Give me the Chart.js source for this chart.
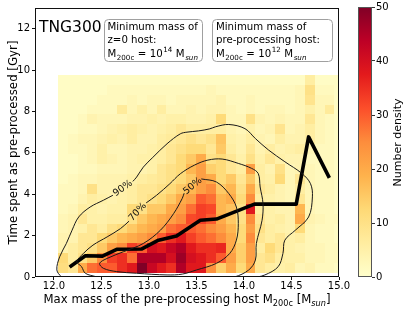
<!DOCTYPE html>
<html><head><meta charset="utf-8">
<script src="https://cdn.jsdelivr.net/npm/chart.js@4.4.1/dist/chart.umd.min.js"></script>
<style>
html,body{margin:0;padding:0;background:#fff;}
#wrap{position:relative;width:407px;height:310px;overflow:hidden;}
#main{position:absolute;left:0;top:0;}
#cbar{position:absolute;left:340px;top:0;}
</style></head><body>
<div id="wrap"><canvas id="main" width="407" height="310"></canvas><canvas id="cbar" width="67" height="310"></canvas></div>
<script>
// ---------- data ----------
const massTicks = [12.0, 12.5, 13.0, 13.5, 14.0, 14.5, 15.0];
const timeTicks = [0, 2, 4, 6, 8, 10, 12];
const densityTicks = [0, 10, 20, 30, 40, 50];

const massEdges = [12.040, 12.144, 12.248, 12.352, 12.456, 12.560, 12.664, 12.768, 12.872, 12.976,
  13.080, 13.184, 13.288, 13.392, 13.496, 13.600, 13.704, 13.808, 13.912, 14.016,
  14.120, 14.224, 14.328, 14.432, 14.536, 14.640, 14.744, 14.848, 14.952, 15.056];
const timeEdges = [0.19, 0.669, 1.148, 1.627, 2.106, 2.585, 3.064, 3.543, 4.022, 4.501, 4.98,
  5.459, 5.938, 6.417, 6.896, 7.375, 7.854, 8.333, 8.812, 9.291, 9.77];

// number density per cell, one array per time bin (bottom to top), columns along mass
const d00 = [11,8,20,28,30,30,35,38,50,42,38,35,45,38,38,24,14,20,12,20,8,6,5,6,3,4,2,2,1];
const d01 = [12,6,10,15,25,33,35,28,45,45,45,40,47,40,38,35,30,22,14,22,8,10,6,5,5,3,3,2,2];
const d02 = [4,6,8,10,15,22,25,33,30,40,38,42,45,38,35,35,36,20,14,22,6,12,8,5,4,3,3,2,2];
const d03 = [4,4,8,8,12,15,18,20,22,25,30,35,38,33,30,28,25,20,12,25,8,6,8,5,6,3,2,2,1];
const d04 = [3,4,5,8,6,10,12,15,18,20,22,28,30,30,28,25,22,18,12,22,10,6,5,4,12,3,2,2,1];
const d05 = [3,4,8,5,5,6,6,10,15,18,20,22,25,32,33,30,20,15,10,25,8,5,6,4,20,4,3,2,2];
const d06 = [2,3,6,5,4,5,5,12,10,15,15,20,22,28,33,32,18,16,10,38,6,5,4,4,18,3,2,2,1];
const d07 = [2,2,4,6,5,4,5,6,8,10,12,15,20,22,30,28,18,20,12,25,6,5,4,3,8,3,2,2,1];
const d08 = [2,2,3,10,4,4,5,6,8,8,10,12,15,18,22,25,15,18,10,20,8,6,4,3,6,3,2,2,1];
const d09 = [1,2,3,3,4,4,4,5,6,7,8,10,12,15,22,20,12,15,8,15,6,5,12,3,8,3,2,2,1];
const d10 = [1,1,2,2,3,3,3,4,4,5,8,10,12,18,22,14,12,8,6,22,6,4,10,3,4,3,2,2,1];
const d11 = [1,1,2,3,5,4,3,4,5,5,6,8,12,15,20,10,12,8,5,10,5,8,5,4,4,2,2,2,1];
const d12 = [1,2,2,3,5,3,3,4,4,5,6,8,10,12,12,8,15,6,4,8,4,6,4,5,6,3,2,2,1];
const d13 = [1,2,3,3,4,5,4,6,4,4,6,7,8,10,8,10,16,5,4,6,4,3,6,4,4,6,3,2,1];
const d14 = [1,1,2,2,3,4,5,6,5,4,5,6,8,6,6,6,6,4,3,5,3,4,9,3,4,6,3,2,1];
const d15 = [1,1,2,4,3,3,3,4,4,5,4,5,5,4,4,5,12,3,3,10,4,3,4,3,3,8,3,2,1];
const d16 = [1,1,1,2,2,2,7,3,5,3,6,3,3,4,3,4,4,3,2,3,2,3,3,2,3,5,3,7,1];
const d17 = [1,1,1,1,2,2,2,3,2,3,3,2,3,3,3,3,4,2,2,3,2,2,2,2,3,9,3,3,1];
const d18 = [1,1,1,1,1,2,2,2,2,2,2,2,2,2,2,3,2,2,2,2,2,2,2,2,3,10,2,2,1];
const d19 = [1,1,1,1,1,1,1,1,1,1,1,1,1,1,1,1,1,1,1,1,1,1,1,1,1,6,1,1,1];
const densityRows = [d00,d01,d02,d03,d04,d05,d06,d07,d08,d09,d10,d11,d12,d13,d14,d15,d16,d17,d18,d19];

// median line
const medMass = [12.18, 12.33, 12.51, 12.66, 12.92, 13.10, 13.29, 13.54, 13.71, 14.11, 14.55, 14.68, 14.89];
const medTime = [0.53, 1.03, 1.01, 1.34, 1.35, 1.78, 1.98, 2.74, 2.80, 3.52, 3.52, 6.77, 4.87];

// contours (open at the label gap)
const c90Mass = [12.83,12.87,12.94,13.04,13.19,13.33,13.40,13.52,13.64,13.70,13.84,14.01,14.12,14.26,14.43,14.61,14.70,14.72,14.68,14.54,14.43,14.41,14.36,14.22,14.08,13.90,13.00,12.20,12.08,12.03,12.06,12.13,12.19,12.26,12.38,12.52,12.62];
const c90Time = [4.62,4.83,5.31,5.78,6.44,6.92,7.00,7.06,7.16,7.26,7.37,7.17,6.69,6.13,5.57,5.00,4.51,3.87,2.90,2.26,1.78,1.14,0.50,0.10,-0.06,-0.30,-0.50,-0.50,0.00,0.34,0.98,1.62,2.26,2.90,3.38,3.71,3.95];
const c70Mass = [12.97,13.08,13.22,13.33,13.48,13.62,13.77,13.94,14.08,14.15,14.17,14.20,14.19,14.13,14.12,14.05,13.90,13.60,12.60,12.45,12.33,12.29,12.24,12.31,12.41,12.56,12.70,12.79];
const c70Time = [3.58,3.95,4.51,4.99,5.41,5.65,5.70,5.49,5.25,5.00,4.35,3.55,2.74,1.62,0.82,0.34,0.00,-0.30,-0.30,0.00,0.18,0.50,0.74,1.14,1.54,1.94,2.34,2.70];
const c50Mass = [13.55,13.71,13.84,13.92,13.94,13.92,13.85,13.71,13.50,13.35,13.19,12.87,12.66,12.52,12.48,12.56,12.73,12.94,13.12,13.26,13.35,13.37];
const c50Time = [4.74,4.59,4.03,3.38,2.59,1.78,1.14,0.66,0.34,0.14,0.10,0.18,0.26,0.42,0.66,0.90,1.22,1.62,2.26,3.07,3.80,4.05];
const contourLabels = ['90%', '70%', '50%'];

const cmapStops = ['#ffffcc','#ffeda0','#fed976','#feb24c','#fd8d3c','#fc4e2a','#e31a1c','#bd0026','#800026'];
const densityMax = 50;

// ---------- helpers ----------
const FONT = '"DejaVu Sans", "Liberation Sans", sans-serif';
Chart.defaults.font.family = FONT;
function hexRgb(h){return [parseInt(h.slice(1,3),16),parseInt(h.slice(3,5),16),parseInt(h.slice(5,7),16)];}
function ylOrRd(t){
  t = Math.max(0, Math.min(1, t));
  const n = cmapStops.length - 1, f = t * n, i = Math.min(Math.floor(f), n - 1), u = f - i;
  const a = hexRgb(cmapStops[i]), b = hexRgb(cmapStops[i+1]);
  return 'rgb(' + a.map((v,k)=>Math.round(v + (b[k]-v)*u)).join(',') + ')';
}
function rich(ctx, x, y, parts, size, draw){
  let cx = x;
  parts.forEach(p => {
    const small = p.sub || p.sup;
    const s = small ? size * 0.7 : size;
    ctx.font = (p.italic ? 'italic ' : '') + s + 'px ' + FONT;
    cx += (p.gap || 0);
    const dy = p.sub ? size * 0.3 : (p.sup ? -size * 0.42 : 0);
    if (draw) ctx.fillText(p.t, cx, y + dy);
    cx += ctx.measureText(p.t).width;
  });
  return cx - x;
}
function pts(xs, ys){ return xs.map((x,i)=>({x:x, y:ys[i]})); }
function contourDs(xs, ys){
  return {data: pts(xs, ys), showLine:true, borderColor:'#1a1a1a', borderWidth:1, pointRadius:0, tension:0.35, clip:0, fill:false};
}

const heatmapPlugin = {
  id: 'heatmap',
  beforeDatasetsDraw(chart){
    const {ctx, chartArea:a, scales:{x, y}} = chart;
    ctx.save();
    ctx.beginPath(); ctx.rect(a.left, a.top, a.right - a.left, a.bottom - a.top); ctx.clip();
    densityRows.forEach((row, j) => {
      const yb = Math.round(y.getPixelForValue(timeEdges[j]));
      const yt = Math.round(y.getPixelForValue(timeEdges[j+1]));
      row.forEach((v, i) => {
        const xl = Math.round(x.getPixelForValue(massEdges[i]));
        const xr = Math.round(x.getPixelForValue(massEdges[i+1]));
        ctx.fillStyle = ylOrRd(v / densityMax);
        ctx.fillRect(xl, yt, xr - xl, yb - yt);
      });
    });
    ctx.restore();
  }
};

function roundBox(ctx, l, t, r, b, rad){
  ctx.beginPath();
  ctx.moveTo(l + rad, t); ctx.lineTo(r - rad, t); ctx.arcTo(r, t, r, t + rad, rad);
  ctx.lineTo(r, b - rad); ctx.arcTo(r, b, r - rad, b, rad);
  ctx.lineTo(l + rad, b); ctx.arcTo(l, b, l, b - rad, rad);
  ctx.lineTo(l, t + rad); ctx.arcTo(l, t, l + rad, t, rad);
  ctx.closePath();
  ctx.fillStyle = '#fff'; ctx.fill();
  ctx.strokeStyle = '#a0a0a0'; ctx.lineWidth = 1; ctx.stroke();
}

const overlayPlugin = {
  id: 'overlay',
  afterDraw(chart){
    const {ctx, chartArea:a, scales:{x, y}} = chart;
    ctx.save();
    // frame
    ctx.strokeStyle = '#111'; ctx.lineWidth = 1;
    ctx.strokeRect(a.left + 0.5, a.top + 0.5, a.right - a.left - 1, a.bottom - a.top - 1);
    // contour labels, centred in each gap, aligned with the gap direction
    const gaps = [[c90Mass, c90Time], [c70Mass, c70Time], [c50Mass, c50Time]];
    ctx.fillStyle = '#111'; ctx.textAlign = 'center'; ctx.textBaseline = 'middle';
    ctx.font = '9.5px ' + FONT;
    gaps.forEach((g, k) => {
      const n = g[0].length - 1;
      const x1 = x.getPixelForValue(g[0][n]), y1 = y.getPixelForValue(g[1][n]);
      const x2 = x.getPixelForValue(g[0][0]), y2 = y.getPixelForValue(g[1][0]);
      ctx.save();
      ctx.translate((x1 + x2) / 2, (y1 + y2) / 2);
      ctx.rotate(Math.atan2(y2 - y1, x2 - x1));
      ctx.fillText(contourLabels[k], 0, 0);
      ctx.restore();
    });
    // TNG300
    ctx.textAlign = 'left'; ctx.textBaseline = 'alphabetic';
    ctx.fillStyle = '#000';
    ctx.font = '15.5px ' + FONT;
    ctx.fillText('TNG300', 39, 31.5);
    // info boxes
    roundBox(ctx, 104.5, 19.5, 202.5, 61.5, 4);
    roundBox(ctx, 212.5, 19.5, 332.5, 61.5, 4);
    ctx.fillStyle = '#000';
    ctx.font = '10.2px ' + FONT;
    ctx.fillText('Minimum mass of', 107.5, 29.5);
    ctx.fillText('z=0 host:', 107.5, 43);
    ctx.fillText('Minimum mass of', 216, 29.5);
    ctx.fillText('pre-processing host:', 216, 43);
    const eq = (p) => [{t:'M'},{t:'200c',sub:true,gap:0.5},{t:'=',gap:3.5},{t:'10',gap:3.5},{t:p,sup:true,gap:0.5},{t:'M',gap:3.5},{t:'sun',sub:true,italic:true,gap:0.5}];
    rich(ctx, 107.5, 56.5, eq('14'), 10.2, true);
    rich(ctx, 216, 56.5, eq('12'), 10.2, true);
    // axis titles
    const xt = [{t:'Max mass of the pre-processing host M'},{t:'200c',sub:true},{t:' [M'},{t:'sun',sub:true,italic:true},{t:']'}];
    const w = rich(ctx, 0, 0, xt, 11.7, false);
    rich(ctx, 187 - w / 2, 302.5, xt, 11.7, true);
    ctx.font = '11.8px ' + FONT;
    ctx.save();
    ctx.translate(16.5, 142.5); ctx.rotate(-Math.PI / 2);
    ctx.textAlign = 'center';
    ctx.fillText('Time spent as pre-processed [Gyr]', 0, 0);
    ctx.restore();
    ctx.restore();
  }
};

new Chart(document.getElementById('main'), {
  type: 'scatter',
  data: { datasets: [
    contourDs(c90Mass, c90Time),
    contourDs(c70Mass, c70Time),
    contourDs(c50Mass, c50Time),
    {data: pts(medMass, medTime), showLine:true, borderColor:'#000', borderWidth:3.6, pointRadius:0, tension:0,
     borderJoinStyle:'round', borderCapStyle:'square', clip:0, fill:false}
  ]},
  options: {
    responsive:false, animation:false, events:[],
    layout:{padding:{left:0, top:7, right:68, bottom:0}},
    plugins:{legend:{display:false}, tooltip:{enabled:false}},
    scales:{
      x:{type:'linear', min:11.8, max:15.0,
        afterBuildTicks:s=>{s.ticks = massTicks.map(v=>({value:v}));},
        afterFit:s=>{s.height = 33;},
        ticks:{callback:v=>Number(v).toFixed(1), font:{size:10}, color:'#000', padding:0, maxRotation:0, autoSkip:false},
        grid:{display:true, drawOnChartArea:false, drawTicks:true, tickLength:3, color:'#111', lineWidth:1},
        border:{display:false}},
      y:{type:'linear', min:0, max:13,
        afterBuildTicks:s=>{s.ticks = timeTicks.map(v=>({value:v}));},
        afterFit:s=>{s.width = 35;},
        ticks:{font:{size:10}, color:'#000', padding:2, autoSkip:false},
        grid:{display:true, drawOnChartArea:false, drawTicks:true, tickLength:3, color:'#111', lineWidth:1},
        border:{display:false}}
    }
  },
  plugins:[heatmapPlugin, overlayPlugin]
});

// ---------- colour bar ----------
const cbarPlugin = {
  id: 'cbarFrame',
  afterDraw(chart){
    const {ctx, chartArea:a} = chart;
    ctx.save();
    ctx.strokeStyle = '#555'; ctx.lineWidth = 1;
    ctx.strokeRect(a.left + 0.5, a.top + 0.5, a.right - a.left - 1, a.bottom - a.top - 1);
    ctx.fillStyle = '#000';
    ctx.font = '11px ' + FONT;
    ctx.translate(61, 142.5); ctx.rotate(-Math.PI / 2);
    ctx.textAlign = 'center';
    ctx.fillText('Number density', 0, 0);
    ctx.restore();
  }
};
new Chart(document.getElementById('cbar'), {
  type: 'bar',
  data: { labels:[''], datasets:[{
    data:[[0, densityMax]], borderWidth:0, barPercentage:1, categoryPercentage:1,
    backgroundColor:(c)=>{
      const a = c.chart.chartArea;
      if (!a) return cmapStops[0];
      const g = c.chart.ctx.createLinearGradient(0, a.bottom, 0, a.top);
      cmapStops.forEach((col, i)=>g.addColorStop(i / (cmapStops.length - 1), col));
      return g;
    }
  }]},
  options: {
    responsive:false, animation:false, events:[],
    layout:{padding:{left:18, top:7, right:0, bottom:33}},
    plugins:{legend:{display:false}, tooltip:{enabled:false}},
    scales:{
      x:{display:false},
      y:{position:'right', min:0, max:densityMax,
        afterBuildTicks:s=>{s.ticks = densityTicks.map(v=>({value:v}));},
        afterFit:s=>{s.width = 35;},
        ticks:{font:{size:10}, color:'#000', padding:1, autoSkip:false},
        grid:{display:true, drawOnChartArea:false, drawTicks:true, tickLength:3, color:'#333', lineWidth:1},
        border:{display:false}}
    }
  },
  plugins:[cbarPlugin]
});
</script></body></html>
